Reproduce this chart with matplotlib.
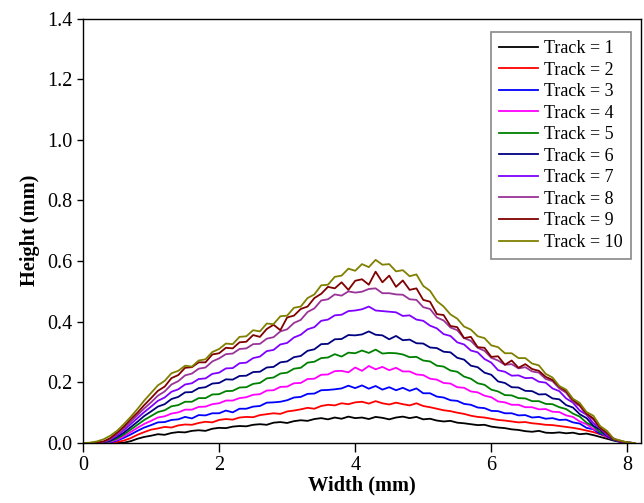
import numpy as np
import matplotlib
matplotlib.use("Agg")
import matplotlib.pyplot as plt

plt.rcParams['font.family'] = ['Liberation Serif', 'DejaVu Serif']

# Width positions (mm), sampled every 0.1 mm
width_step = 0.1

track_1 = [0, 0, 0, 0, 0, 0, 0.001, 0.006, 0.014, 0.02,
           0.024, 0.029, 0.027, 0.033, 0.036, 0.035, 0.04, 0.042, 0.04, 0.047,
           0.05, 0.049, 0.054, 0.056, 0.055, 0.06, 0.062, 0.06, 0.067, 0.069,
           0.066, 0.072, 0.075, 0.073, 0.079, 0.082, 0.078, 0.084, 0.08, 0.087,
           0.082, 0.084, 0.079, 0.086, 0.083, 0.078, 0.084, 0.087, 0.082, 0.086,
           0.078, 0.08, 0.074, 0.071, 0.073, 0.067, 0.065, 0.062, 0.059, 0.06,
           0.054, 0.051, 0.049, 0.045, 0.043, 0.039, 0.037, 0.04, 0.034, 0.033,
           0.035, 0.032, 0.034, 0.029, 0.031, 0.026, 0.02, 0.014, 0.008, 0.003,
           0.001, 0]
track_2 = [0, 0, 0, 0, 0, 0.003, 0.008, 0.016, 0.027, 0.036,
           0.044, 0.048, 0.053, 0.051, 0.058, 0.061, 0.06, 0.066, 0.07, 0.068,
           0.076, 0.079, 0.077, 0.084, 0.086, 0.085, 0.092, 0.095, 0.098, 0.096,
           0.104, 0.107, 0.111, 0.116, 0.113, 0.122, 0.126, 0.124, 0.131, 0.128,
           0.134, 0.136, 0.13, 0.138, 0.131, 0.127, 0.133, 0.128, 0.124, 0.131,
           0.122, 0.118, 0.113, 0.108, 0.105, 0.1, 0.096, 0.09, 0.086, 0.084,
           0.08, 0.076, 0.074, 0.071, 0.068, 0.069, 0.065, 0.063, 0.06, 0.059,
           0.056, 0.053, 0.05, 0.046, 0.041, 0.036, 0.029, 0.02, 0.011, 0.004,
           0.001, 0]
track_3 = [0, 0, 0, 0, 0.002, 0.008, 0.017, 0.028, 0.04, 0.051,
           0.059, 0.068, 0.069, 0.076, 0.078, 0.086, 0.081, 0.092, 0.091, 0.098,
           0.098, 0.107, 0.101, 0.113, 0.113, 0.12, 0.122, 0.133, 0.134, 0.136,
           0.141, 0.15, 0.152, 0.162, 0.163, 0.174, 0.175, 0.177, 0.18, 0.189,
           0.181, 0.19, 0.179, 0.188, 0.176, 0.184, 0.174, 0.182, 0.172, 0.18,
           0.164, 0.164, 0.153, 0.15, 0.141, 0.139, 0.129, 0.126, 0.117, 0.115,
           0.106, 0.105, 0.098, 0.098, 0.091, 0.092, 0.084, 0.086, 0.08, 0.082,
           0.076, 0.077, 0.068, 0.064, 0.05, 0.045, 0.03, 0.023, 0.009, 0.005,
           0.001, 0]
track_4 = [0, 0, 0, 0, 0.004, 0.011, 0.022, 0.036, 0.05, 0.063,
           0.073, 0.084, 0.088, 0.097, 0.101, 0.11, 0.11, 0.119, 0.12, 0.128,
           0.131, 0.14, 0.14, 0.148, 0.151, 0.159, 0.161, 0.173, 0.174, 0.185,
           0.186, 0.197, 0.198, 0.211, 0.212, 0.225, 0.226, 0.237, 0.238, 0.233,
           0.249, 0.238, 0.254, 0.243, 0.251, 0.24, 0.248, 0.236, 0.236, 0.226,
           0.224, 0.212, 0.209, 0.198, 0.196, 0.184, 0.182, 0.17, 0.167, 0.156,
           0.151, 0.137, 0.134, 0.126, 0.126, 0.118, 0.118, 0.111, 0.112, 0.103,
           0.102, 0.091, 0.086, 0.071, 0.062, 0.046, 0.037, 0.02, 0.014, 0.003,
           0.001, 0]
track_5 = [0, 0, 0, 0.001, 0.006, 0.015, 0.028, 0.044, 0.06, 0.076,
           0.089, 0.102, 0.108, 0.121, 0.125, 0.136, 0.136, 0.148, 0.148, 0.16,
           0.161, 0.171, 0.172, 0.183, 0.184, 0.195, 0.198, 0.213, 0.216, 0.229,
           0.232, 0.245, 0.248, 0.265, 0.268, 0.28, 0.282, 0.293, 0.285, 0.298,
           0.296, 0.305, 0.297, 0.308, 0.295, 0.297, 0.296, 0.292, 0.283, 0.284,
           0.272, 0.269, 0.255, 0.252, 0.239, 0.235, 0.219, 0.212, 0.197, 0.192,
           0.176, 0.17, 0.158, 0.157, 0.148, 0.147, 0.138, 0.138, 0.129, 0.128,
           0.118, 0.112, 0.097, 0.087, 0.067, 0.055, 0.035, 0.025, 0.011, 0.005,
           0.001, 0]
track_6 = [0, 0, 0, 0.002, 0.008, 0.02, 0.034, 0.052, 0.07, 0.089,
           0.104, 0.12, 0.128, 0.145, 0.152, 0.167, 0.168, 0.181, 0.184, 0.196,
           0.198, 0.21, 0.209, 0.221, 0.222, 0.234, 0.235, 0.249, 0.251, 0.266,
           0.269, 0.283, 0.287, 0.304, 0.309, 0.326, 0.327, 0.342, 0.343, 0.356,
           0.355, 0.358, 0.368, 0.357, 0.355, 0.342, 0.353, 0.339, 0.341, 0.329,
           0.328, 0.315, 0.313, 0.301, 0.299, 0.281, 0.275, 0.255, 0.25, 0.232,
           0.225, 0.203, 0.198, 0.184, 0.183, 0.172, 0.171, 0.16, 0.161, 0.147,
           0.144, 0.125, 0.117, 0.095, 0.082, 0.057, 0.044, 0.022, 0.014, 0.003,
           0.001, 0]
track_7 = [0, 0, 0, 0.003, 0.011, 0.025, 0.042, 0.062, 0.082, 0.102,
           0.12, 0.139, 0.15, 0.169, 0.177, 0.193, 0.197, 0.211, 0.213, 0.228,
           0.232, 0.246, 0.247, 0.263, 0.265, 0.28, 0.285, 0.303, 0.307, 0.325,
           0.33, 0.348, 0.357, 0.375, 0.382, 0.403, 0.407, 0.421, 0.423, 0.435,
           0.437, 0.441, 0.45, 0.437, 0.435, 0.433, 0.431, 0.419, 0.421, 0.407,
           0.403, 0.387, 0.378, 0.359, 0.353, 0.332, 0.325, 0.305, 0.299, 0.277,
           0.265, 0.24, 0.235, 0.222, 0.223, 0.214, 0.215, 0.202, 0.199, 0.18,
           0.171, 0.147, 0.133, 0.107, 0.093, 0.065, 0.049, 0.025, 0.015, 0.004,
           0.001, 0]
track_8 = [0, 0, 0.001, 0.004, 0.013, 0.029, 0.048, 0.07, 0.092, 0.114,
           0.134, 0.156, 0.17, 0.193, 0.204, 0.223, 0.229, 0.245, 0.249, 0.269,
           0.279, 0.293, 0.295, 0.31, 0.312, 0.326, 0.327, 0.344, 0.349, 0.368,
           0.375, 0.396, 0.406, 0.432, 0.444, 0.47, 0.474, 0.49, 0.486, 0.5,
           0.496, 0.499, 0.508, 0.51, 0.494, 0.494, 0.49, 0.489, 0.474, 0.472,
           0.448, 0.442, 0.414, 0.404, 0.381, 0.372, 0.346, 0.337, 0.314, 0.304,
           0.281, 0.272, 0.258, 0.26, 0.246, 0.25, 0.236, 0.232, 0.211, 0.204,
           0.18, 0.166, 0.136, 0.122, 0.093, 0.077, 0.048, 0.031, 0.013, 0.006,
           0.001, 0]
track_9 = [0, 0, 0.002, 0.005, 0.016, 0.034, 0.054, 0.078, 0.1, 0.125,
           0.148, 0.172, 0.186, 0.214, 0.224, 0.248, 0.25, 0.266, 0.266, 0.292,
           0.296, 0.314, 0.312, 0.332, 0.334, 0.356, 0.35, 0.376, 0.39, 0.372,
           0.414, 0.42, 0.442, 0.45, 0.478, 0.492, 0.515, 0.51, 0.53, 0.505,
           0.535, 0.54, 0.522, 0.565, 0.53, 0.552, 0.515, 0.536, 0.505, 0.51,
           0.472, 0.466, 0.425, 0.422, 0.386, 0.382, 0.346, 0.35, 0.316, 0.314,
           0.284, 0.286, 0.258, 0.272, 0.248, 0.26, 0.244, 0.238, 0.218, 0.208,
           0.186, 0.171, 0.142, 0.125, 0.097, 0.081, 0.05, 0.033, 0.012, 0.007,
           0.001, 0]
track_10 = [0, 0.001, 0.005, 0.012, 0.024, 0.04, 0.062, 0.086, 0.112, 0.14,
            0.165, 0.19, 0.205, 0.23, 0.238, 0.255, 0.252, 0.272, 0.276, 0.3,
            0.31, 0.328, 0.326, 0.35, 0.352, 0.372, 0.368, 0.394, 0.392, 0.418,
            0.42, 0.446, 0.45, 0.478, 0.49, 0.52, 0.522, 0.548, 0.552, 0.575,
            0.568, 0.59, 0.58, 0.604, 0.588, 0.59, 0.566, 0.57, 0.55, 0.556,
            0.518, 0.502, 0.468, 0.45, 0.424, 0.41, 0.384, 0.374, 0.352, 0.346,
            0.322, 0.316, 0.296, 0.296, 0.28, 0.28, 0.262, 0.256, 0.228, 0.216,
            0.188, 0.176, 0.146, 0.132, 0.102, 0.09, 0.056, 0.04, 0.014, 0.008,
            0.002, 0]

tracks = [track_1, track_2, track_3, track_4, track_5,
          track_6, track_7, track_8, track_9, track_10]
labels = [f"Track = {i}" for i in range(1, 11)]
colors = ['#000000', '#ff0000', '#0000ff', '#ff00ff', '#008000',
          '#000080', '#8000ff', '#993399', '#800000', '#808000']

x_ticks = [0, 2, 4, 6, 8]
y_ticks = [0.0, 0.2, 0.4, 0.6, 0.8, 1.0, 1.2, 1.4]

fig = plt.figure(figsize=(6.44, 5.03), dpi=100)
ax = fig.add_axes([0.1289, 0.1193, 0.8664, 0.8439])

for ys, lab, c in zip(tracks, labels, colors):
    xs = np.arange(len(ys)) * width_step
    ax.plot(xs, ys, color=c, lw=1.3, label=lab)

ax.set_xlim(0, 8.2)
ax.set_ylim(0, 1.4)
ax.set_xticks(x_ticks)
ax.set_yticks(y_ticks)
ax.set_xticklabels([str(t) for t in x_ticks])
ax.set_yticklabels([f"{t:.1f}" for t in y_ticks])
ax.tick_params(axis='x', direction='out', length=6.5, width=1, labelsize=14.5, pad=3)
ax.tick_params(axis='y', direction='out', length=4.5, width=1, labelsize=14.5, pad=3)
for s in ax.spines.values():
    s.set_linewidth(1.0)

ax.set_xlabel("Width (mm)", fontsize=14.7, fontweight='bold', labelpad=0)
ax.set_ylabel("Height (mm)", fontsize=14.7, fontweight='bold', labelpad=5)

leg = ax.legend(loc='upper right', bbox_to_anchor=(0.982, 0.968), borderaxespad=0,
                fontsize=13, frameon=True, fancybox=False, edgecolor='#888888',
                framealpha=1, labelspacing=0.25, handlelength=2.15,
                handletextpad=0.35, borderpad=0.45)
leg.get_frame().set_linewidth(1.2)

fig.savefig("out.png", dpi=100)
